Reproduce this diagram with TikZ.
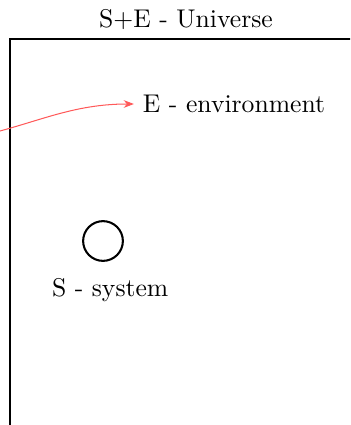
\documentclass[tikz,border=0pt]{standalone}
\usetikzlibrary{arrows.meta,positioning}
\begin{document}
\begin{tikzpicture}[x=0.39pt,y=-0.39pt,node distance=3pt,every node/.style={font=\normalsize},univ/.style={draw,line width=0.8pt},sysdot/.style={draw,circle,line width=0.8pt,minimum size=15.5pt,inner sep=0pt},link/.style={-{Stealth[length=4pt]},red!65,line width=0.4pt}]
\useasboundingbox (0,0) rectangle (350,425);
\clip (0,0) rectangle (350,425);
\draw[univ] (10,440) |- (370,39);
\node (title) at (186,20) {S+E - Universe};
\node (env) at (234,104) {E - environment};
\node[sysdot] (sys) at (103,241) {};
\node[below=3pt of sys,xshift=2.8pt] (syslbl) {S - system};
\coordinate (src) at (-40,140);
\draw[link] (src) to[out=10,in=180] (env);
\end{tikzpicture}
\end{document}
